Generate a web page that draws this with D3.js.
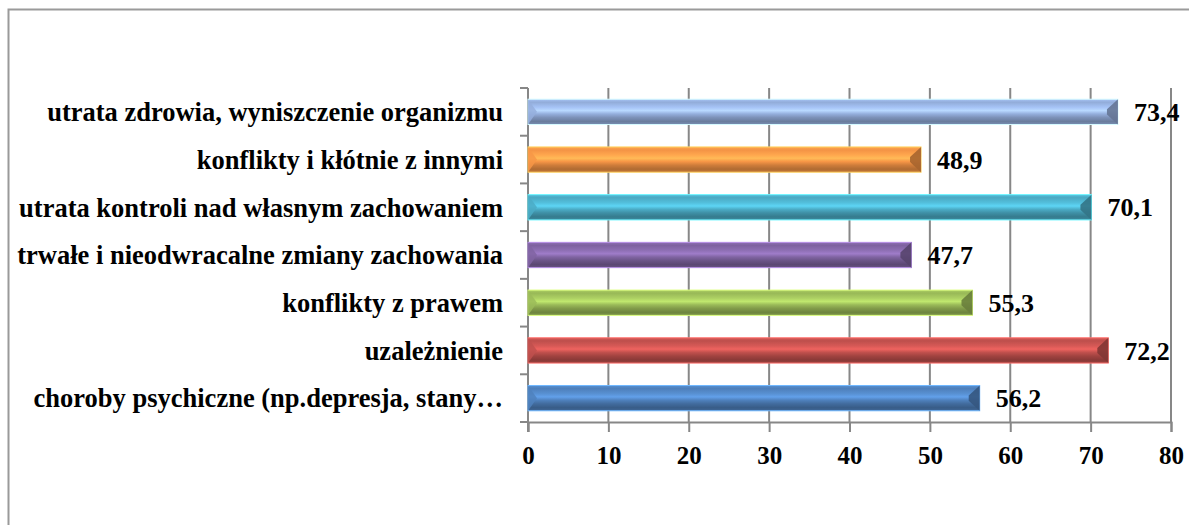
<!DOCTYPE html>
<html>
<head>
<meta charset="utf-8">
<script src="https://cdn.jsdelivr.net/npm/d3@7"></script>
<style>
  body { margin: 0; background: #fff; }
  svg { display: block; font-family: "Liberation Serif", "Times New Roman", serif; font-weight: bold; }
</style>
</head>
<body>
<svg id="chart" width="1189" height="525"></svg>
<script>
// categories listed bottom -> top, as in the original sheet
var categories = [
  'choroby psychiczne (np.depresja, stany…',
  'uzależnienie',
  'konflikty z prawem',
  'trwałe i nieodwracalne zmiany zachowania',
  'utrata kontroli nad własnym zachowaniem',
  'konflikty i kłótnie z innymi',
  'utrata zdrowia, wyniszczenie organizmu'
]
var values = [56.2, 72.2, 55.3, 47.7, 70.1, 48.9, 73.4]
var barColors = ['#4F81BD', '#C0504D', '#9BBB59', '#8064A2', '#4BACC6', '#F79646', '#95AFDD']
var xTicks = [0, 10, 20, 30, 40, 50, 60, 70, 80]

var data = categories.map(function (c, i) { return { cat: c, value: values[i], color: barColors[i] } })

var svg = d3.select('#chart')

// outer chart border (runs off the right and bottom of the picture)
svg.append('rect')
  .attr('x', 8.5).attr('y', 9.5)
  .attr('width', 1200).attr('height', 600)
  .attr('fill', 'none')
  .attr('stroke', '#9a9a9a')
  .attr('stroke-width', 2)

var plotLeft = 528, plotRight = 1171, plotTop = 88, plotBottom = 422

var x = d3.scaleLinear().domain([0, 80]).range([plotLeft, plotRight])
var y = d3.scaleBand()
  .domain(categories.slice().reverse())
  .range([plotTop, plotBottom])
  .paddingInner(0.47)
  .paddingOuter(0.235)

// gradients for the bevelled bars
var defs = svg.append('defs')
data.forEach(function (d, i) {
  var c = d3.color(d.color)
  var g = defs.append('linearGradient')
    .attr('id', 'g' + i)
    .attr('x1', 0).attr('y1', 0).attr('x2', 0).attr('y2', 1)
  var stops = [
    [0, c.brighter(0.3)],
    [0.12, c.darker(0.05)],
    [0.32, c.brighter(0.3)],
    [0.45, c.brighter(0.6)],
    [0.58, c],
    [0.72, c.darker(0.5)],
    [0.88, c.darker(0.95)],
    [1, c.darker(0.6)]
  ]
  stops.forEach(function (s) {
    g.append('stop').attr('offset', s[0]).attr('stop-color', s[1].formatHex())
  })
})

// vertical grid lines
svg.append('g')
  .selectAll('line')
  .data(xTicks.slice(1))
  .join('line')
  .attr('x1', d => x(d)).attr('x2', d => x(d))
  .attr('y1', plotTop).attr('y2', plotBottom)
  .attr('stroke', '#878787')
  .attr('stroke-width', 2)

// x axis
var xAxis = d3.axisBottom(x).tickValues(xTicks).tickSize(10).tickPadding(14)
var gx = svg.append('g')
  .attr('transform', 'translate(0,' + plotBottom + ')')
  .call(xAxis)
gx.select('.domain').attr('stroke', '#878787').attr('stroke-width', 2)
gx.selectAll('.tick line').attr('stroke', '#878787').attr('stroke-width', 2)
gx.selectAll('.tick text')
  .attr('fill', '#000')
  .style('font-size', '25px')
  .style('font-family', '"Liberation Serif", serif')
  .style('font-weight', 'bold')

// y axis (category ticks at band borders)
var bandEdges = d3.range(categories.length + 1).map(function (i) { return plotTop + i * (plotBottom - plotTop) / categories.length })
svg.append('g')
  .selectAll('line')
  .data(bandEdges)
  .join('line')
  .attr('x1', plotLeft - 8).attr('x2', plotLeft)
  .attr('y1', d => d).attr('y2', d => d)
  .attr('stroke', '#878787')
  .attr('stroke-width', 2)
svg.append('line')
  .attr('x1', plotLeft).attr('x2', plotLeft)
  .attr('y1', plotTop).attr('y2', plotBottom + 10)
  .attr('stroke', '#878787')
  .attr('stroke-width', 2)

// bars
var bars = svg.append('g')
  .selectAll('g')
  .data(data)
  .join('g')

bars.append('rect')
  .attr('x', plotLeft)
  .attr('y', d => y(d.cat))
  .attr('width', d => x(d.value) - plotLeft)
  .attr('height', y.bandwidth())
  .attr('fill', (d, i) => 'url(#g' + i + ')')
  .attr('stroke', d => d3.color(d.color).brighter(1.0).formatHex())
  .attr('stroke-width', 1)

// left end bevel
bars.append('path')
  .attr('d', function (d) {
    var y0 = y(d.cat), h = y.bandwidth(), x0 = plotLeft
    return 'M' + x0 + ',' + y0 + 'L' + (x0 + 9) + ',' + (y0 + h / 2) + 'L' + x0 + ',' + (y0 + h) + 'Z'
  })
  .attr('fill', d => d3.color(d.color).formatHex())
  .attr('opacity', 0.85)

// right end bevel
bars.append('path')
  .attr('d', function (d) {
    var y0 = y(d.cat), h = y.bandwidth(), x1 = x(d.value)
    return 'M' + x1 + ',' + y0 + 'L' + (x1 - 11) + ',' + (y0 + h * 0.4) + 'L' + (x1 - 11) + ',' + (y0 + h * 0.6) +
      'L' + x1 + ',' + (y0 + h) + 'Z'
  })
  .attr('fill', d => d3.color(d.color).darker(1.1).formatHex())
  .attr('opacity', 0.9)

// value labels
bars.append('text')
  .attr('x', d => x(d.value) + 16)
  .attr('y', d => y(d.cat) + y.bandwidth() / 2)
  .attr('dy', '0.35em')
  .style('font-size', '26px')
  .text(d => String(d.value).replace('.', ','))

// category labels, right-aligned against the axis
svg.append('g')
  .selectAll('text')
  .data(categories)
  .join('text')
  .attr('x', plotLeft - 25)
  .attr('y', d => y(d) + y.bandwidth() / 2)
  .attr('dy', '0.35em')
  .attr('text-anchor', 'end')
  .style('font-size', '26.5px')
  .text(d => d)
</script>
</body>
</html>
